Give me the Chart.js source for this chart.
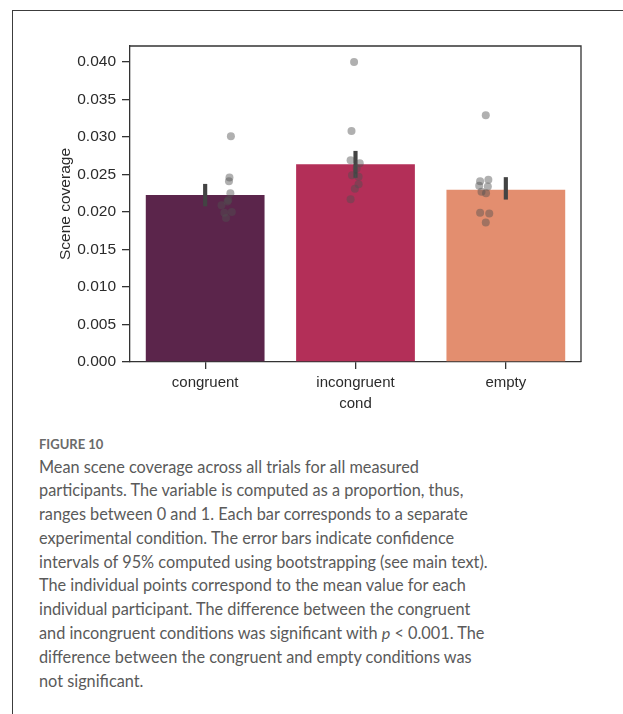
<!DOCTYPE html>
<html>
<head>
<meta charset="utf-8">
<script src="https://cdn.jsdelivr.net/npm/chart.js@4/dist/chart.umd.min.js"></script>
<style>
  html, body { margin: 0; padding: 0; background: #ffffff; }
  #page { position: relative; width: 623px; height: 714px; overflow: hidden; }
  #frame { position: absolute; left: 12px; top: 10px; right: -2px; bottom: -2px;
           border-left: 1px solid #3c3c3c; border-top: 1px solid #3c3c3c; }
  #chart { position: absolute; left: 0; top: 0; }
  #figlabel { position: absolute; left: 39px; top: 434px; font-family: Lato, sans-serif;
              font-weight: 700; font-size: 13px; line-height: 20px; color: #6a6a6a; }
  #caption { position: absolute; left: 39px; top: 454.5px; font-family: Lato, sans-serif;
             font-size: 16.3px; line-height: 23.8px; color: #5a5a5a; white-space: nowrap; }
</style>
</head>
<body>
<div id="page">
  <div id="frame"></div>
  <canvas id="chart" width="623" height="420"></canvas>
  <div id="figlabel">FIGURE 10</div>
  <div id="caption">
    <div>Mean scene coverage across all trials for all measured</div>
    <div>participants. The variable is computed as a proportion, thus,</div>
    <div>ranges between 0 and 1. Each bar corresponds to a separate</div>
    <div>experimental condition. The error bars indicate confidence</div>
    <div>intervals of 95% computed using bootstrapping (see main text).</div>
    <div>The individual points correspond to the mean value for each</div>
    <div>individual participant. The difference between the congruent</div>
    <div>and incongruent conditions was significant with <i>p</i> &lt; 0.001. The</div>
    <div>difference between the congruent and empty conditions was</div>
    <div>not significant.</div>
  </div>
</div>
<script>
// Conditions and per-condition means
const categories = ["congruent", "incongruent", "empty"];
const meanCoverage = [0.02227, 0.02636, 0.02298];
// 95% bootstrap confidence intervals
const ciLow  = [0.0208, 0.0246, 0.0217];
const ciHigh = [0.0237, 0.0281, 0.0246];
// Per-participant means, with the horizontal jitter of each strip point (in category units)
const congruentPts   = [0.0301, 0.0246, 0.0241, 0.0225, 0.0216, 0.0214, 0.0209, 0.0200, 0.0199, 0.0192];
const congruentJit   = [0.033, 0.022, 0.018, 0.029, 0.013, 0.007, -0.040, 0.040, -0.018, -0.005];
const incongruentPts = [0.0400, 0.0308, 0.0269, 0.0265, 0.0258, 0.0249, 0.0247, 0.0237, 0.0231, 0.0217];
const incongruentJit = [-0.011, -0.031, -0.038, 0.033, 0.009, -0.027, 0.024, 0.024, -0.005, -0.038];
const emptyPts       = [0.0329, 0.0243, 0.0241, 0.0235, 0.0234, 0.0227, 0.0225, 0.0199, 0.0198, 0.0186];
const emptyJit       = [0.011, 0.031, -0.033, -0.040, 0.027, -0.022, 0.013, -0.033, 0.038, 0.011];
// Y axis ticks
const yTicks = [0.000, 0.005, 0.010, 0.015, 0.020, 0.025, 0.030, 0.035, 0.040];
const yMax = 0.04213;

const barColors = ["#5b254b", "#b32f58", "#e38e6f"];

const pointSets = [congruentPts, incongruentPts, emptyPts];
const jitterSets = [congruentJit, incongruentJit, emptyJit];
const stripData = [];
pointSets.forEach((vals, ci) => {
  vals.forEach((v, i) => stripData.push({ x: ci + jitterSets[ci][i], y: v }));
});

const spineColor = "#333333";

// Top and right spines closing the axes box
const boxSpines = {
  id: "boxSpines",
  afterDraw(chart) {
    const { ctx, chartArea: a } = chart;
    ctx.save();
    ctx.strokeStyle = spineColor;
    ctx.lineWidth = 1.3;
    ctx.beginPath();
    ctx.moveTo(a.left, a.top);
    ctx.lineTo(a.right, a.top);
    ctx.lineTo(a.right, a.bottom);
    ctx.stroke();
    ctx.restore();
  }
};

Chart.defaults.font.family = "'Liberation Sans', Arial, sans-serif";
Chart.defaults.font.size = 15;
Chart.defaults.color = "#2b2b2b";

new Chart(document.getElementById("chart"), {
  type: "bar",
  data: {
    labels: categories,
    datasets: [
      {
        type: "scatter",
        label: "participants",
        data: stripData,
        xAxisID: "xs",
        yAxisID: "y",
        backgroundColor: "rgba(80,80,80,0.45)",
        borderWidth: 0,
        pointRadius: 4,
        order: 1
      },
      {
        label: "95% CI",
        data: categories.map((c, i) => [ciLow[i], ciHigh[i]]),
        backgroundColor: "#434343",
        borderWidth: 0,
        barThickness: 3.5,
        grouped: false,
        order: 2
      },
      {
        label: "mean",
        data: meanCoverage,
        backgroundColor: barColors,
        borderWidth: 0,
        barPercentage: 0.79,
        categoryPercentage: 1.0,
        grouped: false,
        order: 3
      }
    ]
  },
  options: {
    responsive: false,
    animation: false,
    layout: { padding: { left: 0, right: 42, top: 46, bottom: 0 } },
    plugins: { legend: { display: false }, tooltip: { enabled: false } },
    scales: {
      x: {
        type: "category",
        offset: true,
        grid: { offset: false, drawOnChartArea: false, drawTicks: true, tickLength: 7, color: spineColor, lineWidth: 1.3 },
        border: { display: true, color: spineColor, width: 1.3 },
        ticks: { padding: 5, color: "#2b2b2b" },
        title: { display: true, text: "cond", padding: { top: 0, bottom: 7 }, color: "#2b2b2b" },
        afterFit(scale) { scale.height = 58; }
      },
      xs: {
        type: "linear",
        display: false,
        min: -0.5,
        max: 2.5
      },
      y: {
        type: "linear",
        min: 0,
        max: yMax,
        grid: { drawOnChartArea: false, drawTicks: true, tickLength: 8, color: spineColor, lineWidth: 1.3 },
        border: { display: true, color: spineColor, width: 1.3 },
        ticks: { padding: 6, color: "#2b2b2b", font: { size: 15.5 }, callback: (v) => Number(v).toFixed(3) },
        afterBuildTicks(scale) { scale.ticks = yTicks.map((v) => ({ value: v })); },
        title: { display: true, text: "Scene coverage", font: { size: 15.5 }, padding: { top: 56, bottom: 0 }, color: "#2b2b2b" },
        afterFit(scale) { scale.width = 130; }
      }
    }
  },
  plugins: [boxSpines]
});
</script>
</body>
</html>
